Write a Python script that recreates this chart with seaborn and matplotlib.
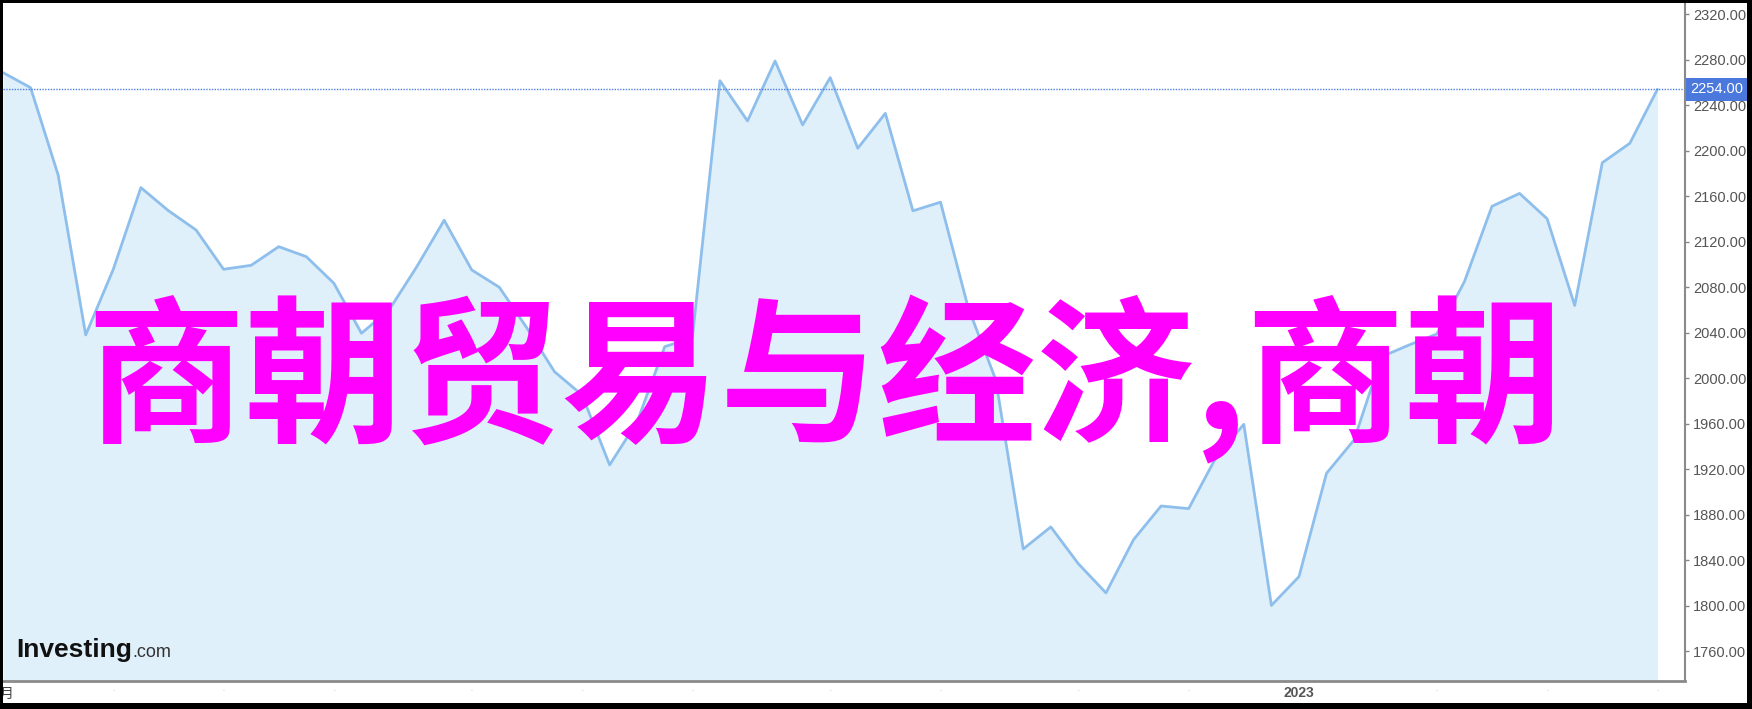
import numpy as np
import matplotlib
matplotlib.use("Agg")
import matplotlib.pyplot as plt
import matplotlib.dates as mdates
from matplotlib.patches import Rectangle
import seaborn as sns
import pandas as pd

# weekly closes
start_date = "2022-02-07"
prices = [2268.7, 2255.5, 2178.7, 2038.1, 2095.8, 2167.6, 2147.3, 2130.4, 2095.8, 2099.3,
          2115.7, 2106.9, 2083.5, 2039.6, 2060.0, 2097.8, 2138.9, 2095.2, 2080.0, 2044.2,
          2005.8, 1985.3, 1923.8, 1961.8, 2027.8, 2035.4, 2261.6, 2226.2, 2278.9, 2222.7,
          2264.3, 2202.2, 2232.9, 2147.2, 2154.8, 2062.4, 1998.9, 1849.9, 1869.3, 1836.9,
          1811.3, 1858.1, 1887.7, 1885.4, 1930.8, 1959.5, 1800.3, 1825.6, 1916.5, 1945.8,
          2019.0, 2029.3, 2038.9, 2084.9, 2151.2, 2162.5, 2140.2, 2064.0, 2189.5, 2206.6,
          2254.0]
last_price = 2254.0
y_ticks = [1760, 1800, 1840, 1880, 1920, 1960, 2000, 2040, 2080, 2120, 2160, 2200, 2240, 2280, 2320]
title_text = "商朝贸易与经济,商朝"

dates = pd.date_range(start_date, periods=len(prices), freq="7D")
df = pd.DataFrame({"date": dates, "price": prices})

sns.set_style("white")
plt.rcParams["font.family"] = ["Liberation Sans", "Noto Sans CJK SC", "DejaVu Sans"]

W, H = 1752, 709
fig = plt.figure(figsize=(W / 100, H / 100), dpi=100)
ax = fig.add_axes([3 / W, (H - 680.5) / H, (1685 - 3) / W, (680.5 - 3) / H])

ax.fill_between(df["date"], df["price"], 1700, color="#e0f0fa", lw=0)
sns.lineplot(data=df, x="date", y="price", ax=ax, color="#8ebfec", lw=2)
ax.axhline(last_price, color="#4f7fe0", lw=1, linestyle=(0, (1, 1)))

day0 = dates[0]
ax.set_xlim(day0 + pd.Timedelta(days=0.33), day0 + pd.Timedelta(days=427))
ax.set_ylim(1734.3, 2329.9)

# month ticks: first weekly point of each month
first_of_month = df.groupby(df["date"].dt.to_period("M"))["date"].min().tolist()
ax.set_xticks(first_of_month)
ax.set_xticklabels(["2023" if d.month == 1 else "." for d in first_of_month])
for lab, d in zip(ax.get_xticklabels(), first_of_month):
    if d.month == 1:
        lab.set_fontweight("bold")
        lab.set_fontsize(10)
        lab.set_color("#555555")
    else:
        lab.set_fontsize(5)
        lab.set_color("#aaaaaa")
ax.tick_params(axis="x", direction="out", length=3, width=1.2, color="#888888", pad=1)

ax.yaxis.tick_right()
ax.set_yticks(y_ticks)
ax.set_yticklabels([f"{v:.2f}" for v in y_ticks])
ax.tick_params(axis="y", direction="out", length=3, width=1, color="#888888",
               labelsize=10.5, labelcolor="#555555", pad=3)
ax.set_xlabel("")
ax.set_ylabel("")

for s in ["top", "left"]:
    ax.spines[s].set_visible(False)
ax.spines["bottom"].set_color("#8a8a8a")
ax.spines["bottom"].set_linewidth(2)
ax.spines["right"].set_color("#8a8a8a")
ax.spines["right"].set_linewidth(1.5)

# last price tag on the right axis
ax.text(1.0 + 5 / 1682, last_price, f"{last_price:.2f}", transform=ax.get_yaxis_transform(),
        ha="left", va="center", fontsize=10.5, color="white",
        bbox=dict(boxstyle="square,pad=0.3", fc="#4a78dc", ec="none"))

# big overlay text
fig.text(825 / W, (H - 430) / H, title_text, ha="center", va="baseline",
         fontsize=114, color="#ff00ff", fontweight="bold",
         family=["Noto Sans CJK SC", "DejaVu Sans"])

# logo
logo = fig.text(16 / W, (H - 657) / H, "Investing", fontsize=19, fontweight="bold",
                color="#111111", family=["Liberation Sans Narrow", "Liberation Sans"])
fig.canvas.draw()
bb = logo.get_window_extent()
fig.text(bb.x1 / W + 1 / W, (H - 657) / H, ".com", fontsize=13, color="#333333",
         family=["Liberation Sans Narrow", "Liberation Sans"])

fig.text(13.5 / W, (H - 698) / H, "月", ha="right", va="baseline", fontsize=10,
         color="#444444", family=["Noto Sans CJK SC", "DejaVu Sans"])

# black frame round the picture
for x0, y0, w, h in [(0, 0, 3, H), (0, 0, W, 6), (W - 5, 0, 5, H), (0, H - 3, W, 3)]:
    fig.patches.append(Rectangle((x0 / W, y0 / H), w / W, h / H, transform=fig.transFigure,
                                 fc="black", ec="none", zorder=10))

fig.savefig("out.png", dpi=100)
